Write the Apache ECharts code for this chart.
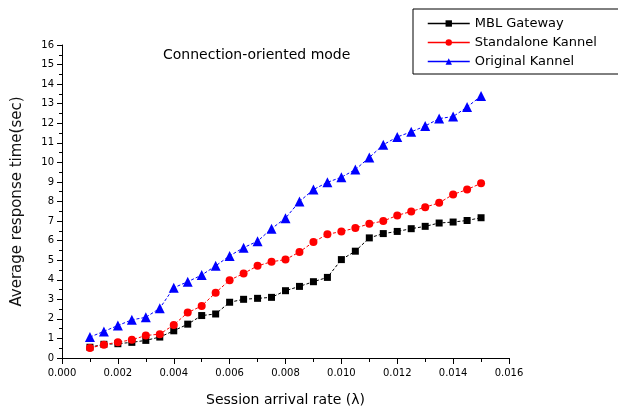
<!DOCTYPE html>
<html>
<head>
<meta charset="utf-8">
<script src="https://cdn.jsdelivr.net/npm/echarts@6/dist/echarts.min.js"></script>
<style>html,body{margin:0;padding:0;background:#fff;}#c{width:618px;height:412px;}</style>
</head>
<body>
<div id="c"></div>
<script>
var xValues = [0.001,0.0015,0.002,0.0025,0.003,0.0035,0.004,0.0045,0.005,0.0055,0.006,0.0065,0.007,0.0075,0.008,0.0085,0.009,0.0095,0.010,0.0105,0.011,0.0115,0.012,0.0125,0.013,0.0135,0.014,0.0145,0.015];
var mblGateway = [0.55,0.7,0.73,0.8,0.9,1.07,1.39,1.73,2.17,2.25,2.85,3.0,3.05,3.10,3.44,3.66,3.9,4.12,5.03,5.46,6.14,6.36,6.47,6.61,6.73,6.9,6.95,7.03,7.17];
var standaloneKannel = [0.51,0.68,0.81,0.93,1.15,1.22,1.69,2.32,2.66,3.34,3.98,4.32,4.71,4.92,5.03,5.42,5.93,6.32,6.47,6.64,6.86,7.0,7.29,7.49,7.71,7.93,8.36,8.61,8.93];
var originalKannel = [1.07,1.36,1.66,1.95,2.08,2.54,3.59,3.9,4.24,4.71,5.22,5.64,5.97,6.61,7.15,8.0,8.61,8.98,9.24,9.63,10.25,10.9,11.3,11.56,11.86,12.24,12.34,12.83,13.39];
var seriesNames = ['MBL Gateway','Standalone Kannel','Original Kannel'];
var titleText = 'Connection-oriented mode';
var xName = 'Session arrival rate (\u03bb)';
var yName = 'Average response time(sec)';

function pairs(ys){ return xValues.map(function(x,i){ return [x, ys[i]]; }); }
var FONT = 'DejaVu Sans';
var chart = echarts.init(document.getElementById('c'), null, {renderer:'canvas'});
chart.setOption({
  animation:false,
  backgroundColor:'#fff',
  grid:{left:62,right:109,top:45,bottom:52},
  title:{text:titleText,left:158,top:43,textStyle:{fontFamily:FONT,fontSize:14,fontWeight:'normal',color:'#000'}},
  legend:{
    orient:'vertical',left:413,top:9,
    data:seriesNames,
    itemWidth:42,itemHeight:8,itemGap:6,
    padding:[8,40,6,14],
    borderColor:'#000',borderWidth:1,
    lineStyle:{type:'solid',width:1.5},
    textStyle:{fontFamily:FONT,fontSize:13,color:'#000'}
  },
  xAxis:{
    type:'value',min:0,max:0.016,interval:0.002,
    name:xName,nameLocation:'middle',nameGap:35,
    nameTextStyle:{fontFamily:FONT,fontSize:14,color:'#000'},
    axisLine:{show:true,lineStyle:{color:'#000',width:1}},
    axisTick:{show:true,length:6,lineStyle:{color:'#000'}},
    minorTick:{show:true,splitNumber:2,length:4,lineStyle:{color:'#000'}},
    axisLabel:{fontFamily:FONT,fontSize:10,color:'#000',margin:10,formatter:function(v){return v.toFixed(3);}},
    splitLine:{show:false}
  },
  yAxis:{
    type:'value',min:0,max:16,interval:1,
    name:yName,nameLocation:'middle',nameGap:37,
    nameTextStyle:{fontFamily:FONT,fontSize:15,color:'#111'},
    axisLine:{show:true,lineStyle:{color:'#000',width:1}},
    axisTick:{show:true,length:5,lineStyle:{color:'#000'}},
    minorTick:{show:true,splitNumber:2,length:3,lineStyle:{color:'#000'}},
    axisLabel:{fontFamily:FONT,fontSize:10,color:'#000',margin:8},
    splitLine:{show:false}
  },
  series:[
    {name:seriesNames[0],type:'line',data:pairs(mblGateway),symbol:'rect',symbolSize:7,
     itemStyle:{color:'#000'},lineStyle:{color:'#000',width:1,type:[3,2]}},
    {name:seriesNames[1],type:'line',data:pairs(standaloneKannel),symbol:'circle',symbolSize:8,
     itemStyle:{color:'#ff0000'},lineStyle:{color:'#ff0000',width:1,type:[3,2]}},
    {name:seriesNames[2],type:'line',data:pairs(originalKannel),symbol:'triangle',symbolSize:10,
     itemStyle:{color:'#0000ff'},lineStyle:{color:'#0000ff',width:1,type:[3,2]}}
  ]
});
</script>
</body>
</html>
